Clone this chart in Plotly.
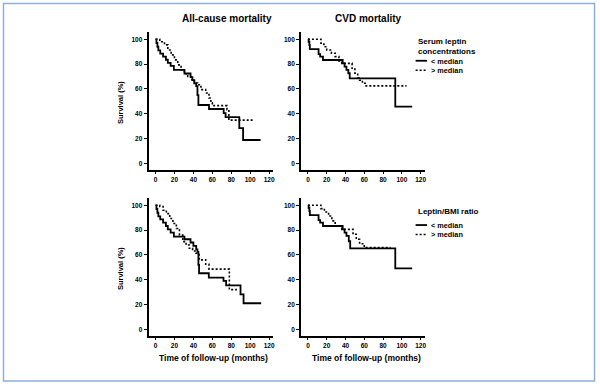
import plotly.graph_objects as go

W, H = 600, 387

# ---------------- data ----------------
# Panel A: All-cause mortality, serum leptin concentrations
ac_lep_low_t = [0, 1, 2, 3, 5, 8, 11, 13, 16, 19.4, 30.6, 37, 39, 41, 43, 44.3, 45.3, 56.5, 72, 74, 88.5, 92.5, 111]
ac_lep_low_s = [100, 97, 94, 91, 88.5, 86, 83.5, 81, 78.5, 75.3, 72.4, 69.5, 67, 64.5, 62.2, 55, 47, 43.8, 40.5, 37.2, 28.4, 18.8, 18.8]
ac_lep_high_t = [0, 4.5, 9.5, 13, 16.5, 20, 23.5, 27, 30.5, 34, 37.5, 41, 44.5, 48, 53, 56.5, 58.5, 60, 75.5, 77.5, 104]
ac_lep_high_s = [100, 98, 95.5, 91.4, 87.4, 83.4, 79.4, 75.4, 72.2, 70, 67.4, 64.7, 63.4, 59.4, 56.7, 52.7, 48.7, 46.5, 43.3, 34.8, 34.8]

# Panel B: CVD mortality, serum leptin concentrations
cvd_lep_low_t = [0, 0.7, 1.5, 2, 11.3, 13, 16, 37, 39, 41, 43, 44.5, 93, 111]
cvd_lep_low_s = [100, 98, 95.4, 92, 88, 86, 83.3, 80.6, 78, 75.3, 72.6, 68.5, 45.7, 45.7]
cvd_lep_high_t = [0, 13.8, 17, 20, 25, 29, 33, 36, 47, 50, 53, 55, 58, 61, 105]
cvd_lep_high_s = [100, 96.8, 94, 91.4, 88.7, 86, 82.5, 80.6, 76.6, 72.6, 69, 67, 64.5, 62.4, 62.4]

# Panel C: All-cause mortality, leptin/BMI ratio
ac_bmi_low_t = [0, 1, 2, 3, 5, 8, 11, 13, 16, 19.4, 30.6, 37, 40, 43, 44.3, 45.3, 46, 56.3, 71.8, 74.6, 89.8, 93, 111.6]
ac_bmi_low_s = [100, 97, 94, 91, 88.7, 86, 83.3, 80.6, 78, 74.7, 72.6, 70, 67.2, 64.5, 62.4, 52, 45.2, 41.7, 39, 35.5, 28.2, 21, 21]
ac_bmi_high_t = [0, 4.5, 8, 11.4, 15, 18.4, 22, 25.3, 28.8, 32.3, 35.7, 39.2, 42.7, 46.1, 53, 56.5, 78, 86]
ac_bmi_high_s = [100, 99, 96, 93.3, 89.3, 85.3, 81.3, 76, 70.7, 68, 65.3, 63.2, 61.3, 56, 52.4, 48.5, 32, 32]

# Panel D: CVD mortality, leptin/BMI ratio
cvd_bmi_low_t = [0, 0.7, 1.5, 2, 11.3, 13, 16, 37, 39, 41, 43.5, 45, 93, 111]
cvd_bmi_low_s = [100, 98, 95.4, 92, 88, 86, 83.3, 80.6, 78, 75.3, 71, 65.3, 49.2, 49.2]
cvd_bmi_high_t = [0, 13.8, 17.5, 22, 25.5, 29, 36, 48, 51.5, 55, 60, 88]
cvd_bmi_high_s = [100, 97.3, 94.6, 91.4, 87.4, 83.3, 80.6, 76.6, 72.6, 69, 65.9, 65.9]

x_ticks = [0, 20, 40, 60, 80, 100, 120]
y_ticks = [0, 20, 40, 60, 80, 100]
col_titles = ["All-cause mortality", "CVD mortality"]
legend_titles = ["Serum leptin<br>concentrations", "Leptin/BMI ratio"]
group_labels = ["< median", "> median"]
x_title = "Time of follow-up (months)"
y_title = "Survival (%)"

# ---------------- figure ----------------
def fx(p):
    return p / W

def fy(p):
    return 1 - p / H

FONT = "Liberation Sans, Arial, sans-serif"
DOT = "2px,2px"
LAB_SIZE = 7.3
LINE_GAP = LAB_SIZE * 1.3

fig = go.Figure()

series = [
    (1, ac_lep_low_t, ac_lep_low_s, ac_lep_high_t, ac_lep_high_s),
    (2, cvd_lep_low_t, cvd_lep_low_s, cvd_lep_high_t, cvd_lep_high_s),
    (3, ac_bmi_low_t, ac_bmi_low_s, ac_bmi_high_t, ac_bmi_high_s),
    (4, cvd_bmi_low_t, cvd_bmi_low_s, cvd_bmi_high_t, cvd_bmi_high_s),
]
for k, lt, ls, ht, hs in series:
    xa = "x" if k == 1 else f"x{k}"
    ya = "y" if k == 1 else f"y{k}"
    fig.add_trace(go.Scatter(x=lt, y=ls, mode="lines", line=dict(shape="hv", color="black", width=1.8),
                             xaxis=xa, yaxis=ya, showlegend=False, name=group_labels[0]))
    fig.add_trace(go.Scatter(x=ht, y=hs, mode="lines", line=dict(shape="hv", color="black", width=1.6, dash=DOT),
                             xaxis=xa, yaxis=ya, showlegend=False, name=group_labels[1]))

# panel pixel geometry: (left, right) for columns, (top, bottom) for rows
cols = [(149, 274), (302, 426)]
rows = [(32.1, 169.5), (198.1, 335.5)]

axis_common = dict(showline=True, linewidth=1.8, linecolor="black", showgrid=False, zeroline=False,
                   ticks="outside", ticklen=3, tickwidth=1.3, tickcolor="black",
                   tickfont=dict(family=FONT, size=6.5, color="black", weight="bold"))

layout_axes = {}
for k in range(1, 5):
    r = (k - 1) // 2
    c = (k - 1) % 2
    xl, xr = cols[c]
    yt, yb = rows[r]
    xname = "xaxis" if k == 1 else f"xaxis{k}"
    yname = "yaxis" if k == 1 else f"yaxis{k}"
    ya = "y" if k == 1 else f"y{k}"
    xa = "x" if k == 1 else f"x{k}"
    layout_axes[xname] = dict(axis_common, domain=[fx(xl), fx(xr)], range=[-7.4, 124.2],
                              tickvals=x_ticks, anchor=ya)
    layout_axes[yname] = dict(axis_common, domain=[fy(yb), fy(yt)], range=[-5, 105.8],
                              tickvals=y_ticks, anchor=xa)

fig.update_layout(**layout_axes)

ann = []
# column titles
for txt, cx in zip(col_titles, [228, 370]):
    ann.append(dict(text=txt, x=fx(cx), y=fy(18.3), xref="paper", yref="paper", showarrow=False,
                    xanchor="center", yanchor="middle",
                    font=dict(family=FONT, size=10, color="black", weight="bold")))
# y titles
for (yt, yb) in rows:
    ann.append(dict(text=y_title, x=fx(121.7), y=fy((yt + yb) / 2 + 2), xref="paper", yref="paper",
                    showarrow=False, textangle=-90, xanchor="center", yanchor="middle",
                    font=dict(family=FONT, size=7.5, color="black", weight="bold")))
# x titles
for cx in [214, 368]:
    ann.append(dict(text=x_title, x=fx(cx), y=fy(358.3), xref="paper", yref="paper", showarrow=False,
                    xanchor="center", yanchor="middle",
                    font=dict(family=FONT, size=8.5, color="black", weight="bold")))

shapes = []
# legends (title text, two-line label block, short line samples)
leg_specs = [
    (legend_titles[0], 46.3, 65.5),
    (legend_titles[1], 211.5, 229.8),
]
for title, ty, ly in leg_specs:
    ann.append(dict(text=title, x=fx(417), y=fy(ty), xref="paper", yref="paper", showarrow=False,
                    xanchor="left", yanchor="middle", align="left",
                    font=dict(family=FONT, size=8, color="black", weight="bold")))
    ann.append(dict(text="<br>".join(group_labels), x=fx(430.5), y=fy(ly), xref="paper", yref="paper",
                    showarrow=False, xanchor="left", yanchor="middle", align="left",
                    font=dict(family=FONT, size=LAB_SIZE, color="black", weight="bold")))
    for yy, dash in [(ly - LINE_GAP / 2, "solid"), (ly + LINE_GAP / 2, DOT)]:
        shapes.append(dict(type="line", xref="paper", yref="paper", x0=fx(417), x1=fx(428.5),
                           y0=fy(yy), y1=fy(yy),
                           line=dict(color="black", width=1.8 if dash == "solid" else 1.4, dash=dash)))

# outer frame
shapes.append(dict(type="rect", xref="paper", yref="paper", x0=fx(3.5), x1=fx(596.5), y0=fy(381), y1=fy(3.5),
                   line=dict(color="#8db0dc", width=1.5), fillcolor="rgba(0,0,0,0)"))

fig.update_layout(width=W, height=H, margin=dict(l=0, r=0, t=0, b=0), paper_bgcolor="white",
                  plot_bgcolor="white", annotations=ann, shapes=shapes, showlegend=False)

fig.write_html("out.html", config={"displayModeBar": False},
               post_script="document.body.style.margin='0';document.body.style.padding='0';"
                           "document.body.style.overflow='hidden';")
